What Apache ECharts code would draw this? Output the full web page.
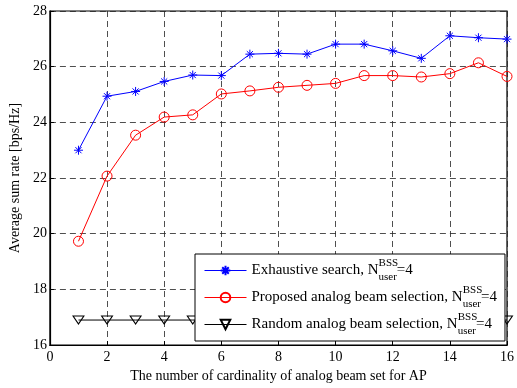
<!DOCTYPE html>
<html>
<head>
<meta charset="utf-8">
<script src="https://cdn.jsdelivr.net/npm/echarts@6/dist/echarts.min.js"></script>
<style>html,body{margin:0;padding:0;background:#fff;}#c{width:517px;height:388px;}</style>
</head>
<body>
<div id="c"></div>
<script>
const xValues = [1,2,3,4,5,6,7,8,9,10,11,12,13,14,15,16];
const exhaustive = [23.0,24.94,25.11,25.47,25.70,25.68,26.45,26.48,26.45,26.81,26.81,26.57,26.30,27.11,27.04,26.99];
const proposed = [19.73,22.07,23.54,24.19,24.27,25.02,25.13,25.26,25.33,25.40,25.68,25.68,25.63,25.75,26.14,25.65];
const random = [16.9,16.9,16.9,16.9,16.9,16.9,16.9,16.9,16.9,16.9,16.9,16.9,16.9,16.9,16.9,16.9];
const seriesNames = ['Exhaustive search','Proposed analog beam selection','Random analog beam selection'];
const xTitle = 'The number of cardinality of analog beam set for AP';
const yTitle = 'Average sum rate [bps/Hz]';

const FONT = 'Liberation Serif';
const pair = (ys) => xValues.map((x, i) => [x, ys[i]]);
const chart = echarts.init(document.getElementById('c'), null, {renderer: 'canvas'});
const dashed = {show: true, lineStyle: {color: '#222', type: [6, 4], width: 0.8}};
chart.setOption({
  animation: false,
  backgroundColor: '#fff',
  grid: {left: 48, right: 8.5, top: 11, bottom: 38, show: true, borderColor: '#000', borderWidth: 1.2, backgroundColor: 'transparent'},
  xAxis: {
    type: 'value', min: 0, max: 16, interval: 2,
    name: xTitle, nameLocation: 'middle', nameGap: 20,
    nameTextStyle: {fontFamily: FONT, fontSize: 14, color: '#000'},
    axisLine: {lineStyle: {color: '#000', width: 1.2}},
    axisTick: {inside: true, length: 4, lineStyle: {color: '#000'}},
    axisLabel: {fontFamily: FONT, fontSize: 14, color: '#000', margin: 5},
    splitLine: dashed
  },
  yAxis: {
    type: 'value', min: 16, max: 28, interval: 2,
    name: yTitle, nameLocation: 'middle', nameGap: 27,
    nameTextStyle: {fontFamily: FONT, fontSize: 14, color: '#000'},
    axisLine: {lineStyle: {color: '#000', width: 1.2}},
    axisTick: {inside: true, length: 4, lineStyle: {color: '#000'}},
    axisLabel: {fontFamily: FONT, fontSize: 14, color: '#000', margin: 3},
    splitLine: dashed
  },
  legend: {
    orient: 'vertical', left: 195, top: 254,
    padding: [4, 8, 4, 9], itemGap: 2, itemWidth: 42, itemHeight: 12,
    backgroundColor: '#fff', borderColor: '#000', borderWidth: 1,
    lineStyle: {width: 1},
    data: seriesNames,
    formatter: (name) => `{t|${name}, N}{sup|BSS}{sub|user}{t|=4}`,
    textStyle: {
      fontFamily: FONT, color: '#000',
      rich: {
        t: {fontFamily: FONT, fontSize: 15, color: '#000', lineHeight: 20},
        sup: {fontFamily: FONT, fontSize: 11, color: '#000', lineHeight: 20, width: 0, padding: [0, 0, 14, 0]},
        sub: {fontFamily: FONT, fontSize: 11, color: '#000', lineHeight: 20, padding: [14, 0, 0, 0]}
      }
    }
  },
  series: [
    {
      name: seriesNames[0], type: 'line', data: pair(exhaustive),
      symbol: 'path://M5,0L5,10M0,5L10,5M1.6,1.6L8.4,8.4M1.6,8.4L8.4,1.6', symbolSize: 9,
      lineStyle: {color: '#0000ff', width: 1},
      itemStyle: {color: 'none', borderColor: '#0000ff', borderWidth: 1},
      z: 4
    },
    {
      name: seriesNames[1], type: 'line', data: pair(proposed),
      symbol: 'circle', symbolSize: 10,
      lineStyle: {color: '#ff0000', width: 1},
      itemStyle: {color: 'none', borderColor: '#ff0000', borderWidth: 1},
      z: 3
    },
    {
      name: seriesNames[2], type: 'line', data: pair(random),
      symbol: 'path://M0,0L10,0L5,8Z', symbolSize: [11, 8],
      lineStyle: {color: '#000', width: 1},
      itemStyle: {color: 'none', borderColor: '#000', borderWidth: 1},
      z: 2
    }
  ]
});
</script>
</body>
</html>
